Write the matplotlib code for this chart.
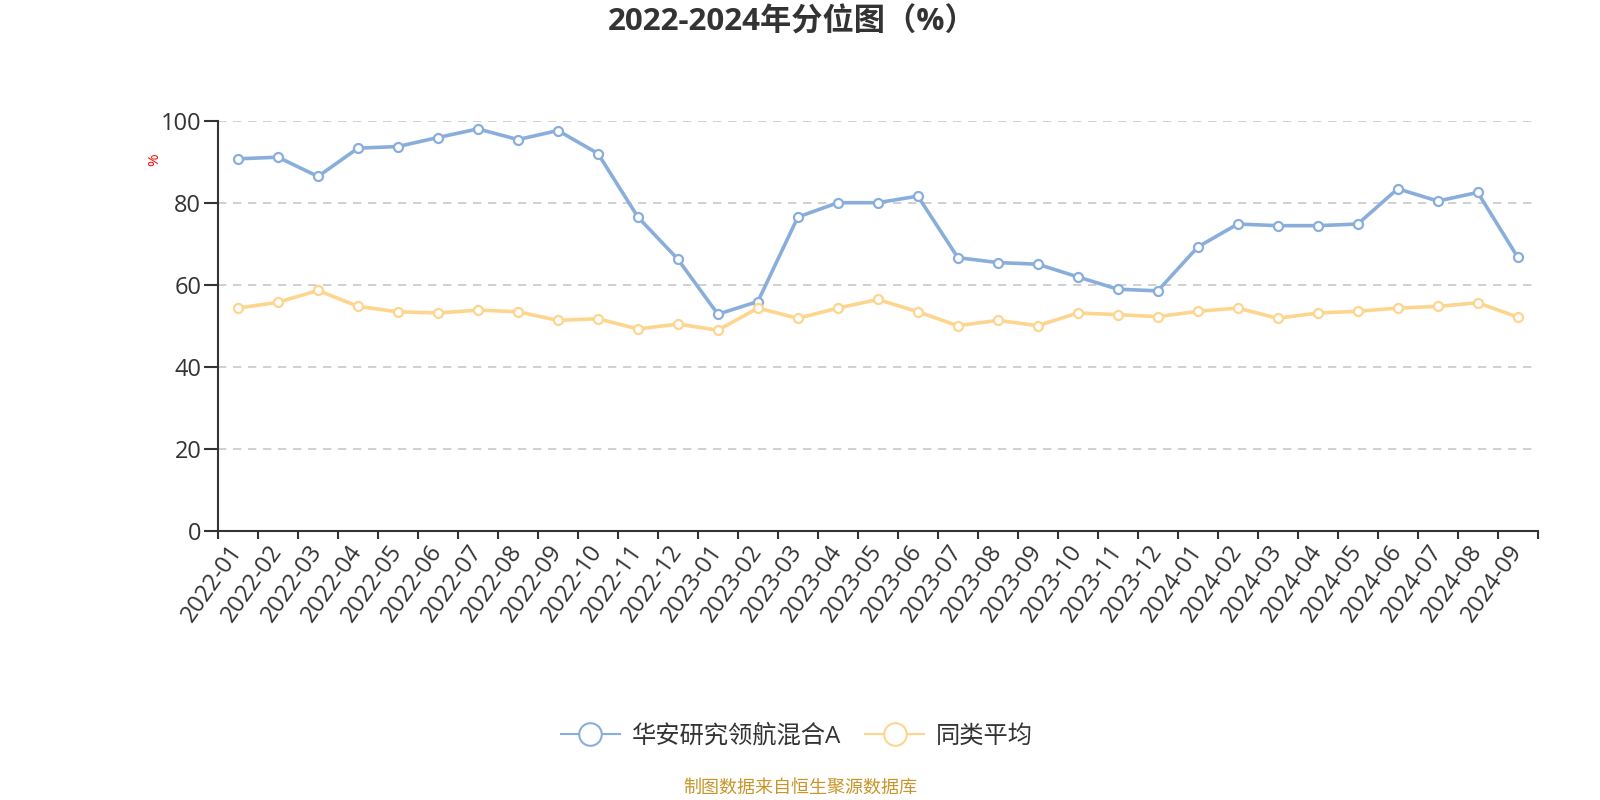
import matplotlib
matplotlib.use("Agg")
import matplotlib.pyplot as plt
import numpy as np

plt.rcParams['font.family'] = ['Open Sans', 'Noto Sans CJK SC', 'DejaVu Sans']

# données
mois = []
for annee in (2022, 2023, 2024):
    for m in range(1, 13):
        if annee == 2024 and m > 9:
            break
        mois.append("%d-%02d" % (annee, m))

fonds = [90.7, 91.1, 86.4, 93.3, 93.7, 95.9, 98.0, 95.4, 97.6, 92.0, 76.5,
         66.2, 52.8, 55.9, 76.5, 80.0, 80.0, 81.6, 66.6, 65.4, 65.0, 61.9,
         58.9, 58.5, 69.2, 74.8, 74.4, 74.4, 74.8, 83.4, 80.4, 82.5, 66.7]
moyenne = [54.3, 55.7, 58.6, 54.7, 53.4, 53.1, 53.8, 53.4, 51.3, 51.7, 49.2,
           50.4, 48.9, 54.3, 51.8, 54.3, 56.4, 53.4, 50.0, 51.3, 50.0, 53.1,
           52.7, 52.2, 53.5, 54.3, 51.8, 53.1, 53.5, 54.3, 54.7, 55.6, 52.1]
noms = ["华安研究领航混合A", "同类平均"]
couleurs = ["#8aaedc", "#fed58f"]
yticks = [0, 20, 40, 60, 80, 100]

fig = plt.figure(figsize=(16, 8), dpi=100)
ax = fig.add_axes([218/1600, 1 - 530.7/800, (1537.7-218)/1600, 410/800])

x = np.arange(len(mois))
for serie, nom, c in zip([fonds, moyenne], noms, couleurs):
    ax.plot(x, serie, color=c, linewidth=2.6, marker="o", markersize=6.5,
            markerfacecolor="white", markeredgecolor=c, markeredgewidth=1.6,
            label=nom, zorder=3)

ax.set_xlim(-0.5, len(mois) - 0.5)
ax.set_ylim(0, 100)
ax.set_yticks(yticks)
ax.set_yticklabels([str(v) for v in yticks], fontsize=17, color="#333333")
for v in yticks[1:]:
    ax.axhline(v, color="#c8c8c8", linewidth=1.2, linestyle=(0, (5, 4)), zorder=1)

ax.set_xticks(np.arange(len(mois) + 1) - 0.5)
ax.set_xticklabels([])
ax.set_xticks(x, minor=True)
ax.set_xticklabels(mois, minor=True, rotation=55, ha="right", va="center",
                   rotation_mode="anchor", fontsize=17, color="#333333")
ax.tick_params(axis="x", which="minor", length=0, pad=12)
ax.tick_params(axis="x", which="major", length=6, width=1.5, color="#333333")
ax.tick_params(axis="y", length=10, width=1.5, color="#333333", pad=2)

for s in ("top", "right"):
    ax.spines[s].set_visible(False)
for s in ("left", "bottom"):
    ax.spines[s].set_color("#333333")
    ax.spines[s].set_linewidth(1.5)

fig.text(155/1600, 1 - 160/800, "%", color="red", fontsize=11, rotation=90,
         ha="center", va="center")

fig.text(792/1600, 1 - 22/800, "2022-2024年分位图（%）", fontsize=22.5,
         fontweight="bold", color="#333333", ha="center", va="center")

leg = fig.legend(loc="center", bbox_to_anchor=(797/1600, 1 - 737/800), ncol=2,
                 frameon=False, fontsize=17.5, handlelength=2.4, columnspacing=1.0,
                 handletextpad=0.5, markerscale=2.5)
for t in leg.get_texts():
    t.set_color("#333333")
for h in leg.legend_handles:
    h.set_linewidth(1.5)
    h.set_markeredgewidth(1.5)

fig.text(800/1600, 1 - 788/800, "制图数据来自恒生聚源数据库", fontsize=13,
         color="#c9952a", ha="center", va="center")

fig.savefig("out.png", dpi=100)
